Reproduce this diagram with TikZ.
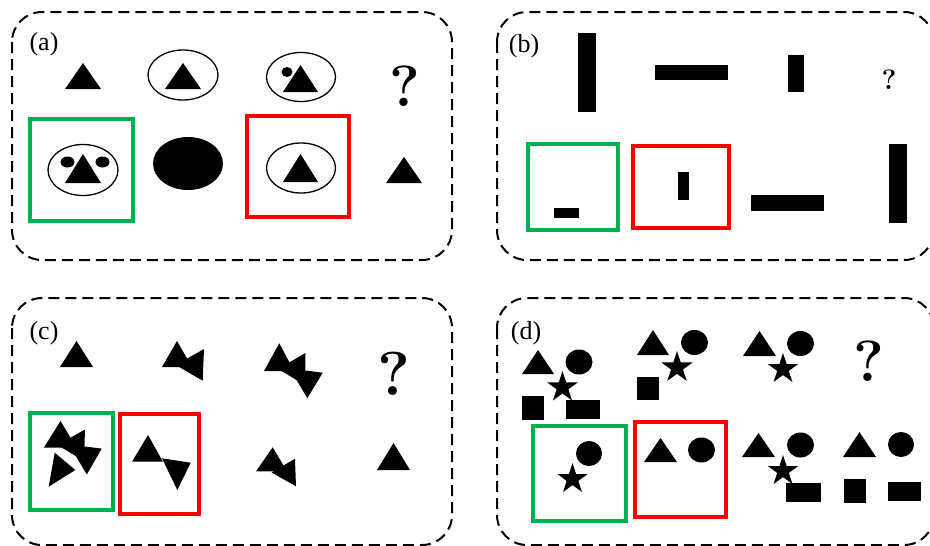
\documentclass[tikz,border=0pt]{standalone}
\usepackage{fontspec}
\newfontfamily\labelfont{Liberation Serif}
\definecolor{ansgreen}{RGB}{0,176,80}
\definecolor{ansred}{RGB}{255,0,0}
\tikzset{
  panel/.style={draw=black, line width=2pt, dash pattern=on 11pt off 6pt, rounded corners=30pt},
  goodbox/.style={draw=ansgreen, line width=4pt},
  badbox/.style={draw=ansred, line width=4pt},
  solid shape/.style={fill=black},
  ring/.style={draw=black, line width=1.3pt},
  lab/.style={inner sep=0pt, font=\labelfont\fontsize{26}{26}\selectfont},
  qmark/.style={inner sep=0pt, font=\bfseries\fontsize{#1}{#1}\selectfont},
  cutout/.style={fill=black, draw=white, line width=5pt, line join=miter},
}
% five-pointed star: centre x, centre y, outer radius (pt)
\newcommand\starshape[3]{%
  \pgfmathsetmacro\starR{#3}%
  \pgfmathsetmacro\starr{0.382*#3}%
  \begin{scope}[shift={(#1,#2)}]
    \fill[solid shape] (90:\starR pt) -- (126:\starr pt) -- (162:\starR pt) -- (198:\starr pt)
      -- (234:\starR pt) -- (270:\starr pt) -- (306:\starR pt) -- (342:\starr pt)
      -- (18:\starR pt) -- (54:\starr pt) -- cycle;
  \end{scope}}
\begin{document}
\begin{tikzpicture}[x=1pt, y=-1pt]
\useasboundingbox (0,0) rectangle (930,546);

% ---------------- panel (a) ----------------
\draw[panel] (12,12) rectangle (452,260);
\node[lab] (la) at (44,44) {(a)};
\fill[solid shape] (65,89) -- (101,89) -- (83,63) -- cycle;
\draw[ring] (183,75) ellipse [x radius=35, y radius=25];
\fill[solid shape] (165,89) -- (201,89) -- (183,63) -- cycle;
\draw[ring] (301,77) ellipse [x radius=34.5, y radius=24.5];
\fill[solid shape] (287,72) ellipse [x radius=5.5, y radius=5];
\fill[solid shape] (283,92) -- (318,92) -- (300.5,65) -- cycle;
\node[qmark=58] (qa) at (405,86) {?};

\draw[goodbox] (30,119) rectangle (133,221);
\draw[ring] (83,170) ellipse [x radius=35, y radius=25.5];
\fill[solid shape] (67.5,162) ellipse [x radius=7, y radius=5.5];
\fill[solid shape] (102.5,162) ellipse [x radius=7, y radius=5.5];
\fill[solid shape] (65,183) -- (101,183) -- (83,154) -- cycle;

\fill[solid shape] (188,163.5) ellipse [x radius=35, y radius=26.5];

\draw[badbox] (247,116) rectangle (349,217);
\draw[ring] (301,168) ellipse [x radius=34.5, y radius=25];
\fill[solid shape] (283,182) -- (318,182) -- (300.5,154) -- cycle;

\fill[solid shape] (386,183) -- (422,183) -- (404,157) -- cycle;

% ---------------- panel (b) ----------------
\draw[panel] (497,12) rectangle (934,260);
\node[lab] (lb) at (524,46) {(b)};
\fill[solid shape] (578,33) rectangle (596,112);
\fill[solid shape] (655,65) rectangle (728,80);
\fill[solid shape] (788,55) rectangle (804,92);
\node[qmark=28] (qb) at (889,80) {?};

\draw[goodbox] (528,144) rectangle (618,230);
\fill[solid shape] (554,208) rectangle (579,218);
\draw[badbox] (633,146) rectangle (729,228);
\fill[solid shape] (678,172) rectangle (689,200);
\fill[solid shape] (751,195) rectangle (824,211);
\fill[solid shape] (889,144) rectangle (907,223);

% ---------------- panel (c) ----------------
\draw[panel] (12,298) rectangle (452,545);
\node[lab] (lc) at (44,333) {(c)};
\fill[solid shape] (60,367) -- (93,367) -- (76.5,341) -- cycle;

\fill[solid shape] (162,367) -- (192,367) -- (177,341) -- cycle;
\fill[solid shape] (175.7,365) -- (204,349) -- (202.7,380.7) -- cycle;

\fill[solid shape] (264,371) -- (294,371) -- (279.3,343.3) -- cycle;
\fill[solid shape] (278,369) -- (305.5,353) -- (305,385) -- cycle;
\fill[solid shape] (290,368.6) -- (322.7,372.7) -- (307.3,398.3) -- cycle;
\node[qmark=62] (qc) at (394,374) {?};

\draw[goodbox] (30,413) rectangle (113,510);
\fill[solid shape] (44,447.5) -- (76.5,447.5) -- (60.5,421) -- cycle;
\fill[solid shape] (57.5,445) -- (85,429.5) -- (84,461) -- cycle;
\fill[solid shape] (69,444.5) -- (101.7,448.6) -- (86.8,474.5) -- cycle;
\path[cutout] (54.7,452.7) -- (75.3,470) -- (48.7,486.7) -- cycle;
\fill[solid shape] (54.7,452.7) -- (75.3,470) -- (48.7,486.7) -- cycle;

\draw[badbox] (120,414) rectangle (199,514);
\fill[solid shape] (132,461.7) -- (163,461.7) -- (148,435) -- cycle;
\fill[solid shape] (162,458.3) -- (190.7,462.7) -- (177.3,490) -- cycle;

\fill[solid shape] (256,471.3) -- (287,471.3) -- (272.7,447.3) -- cycle;
\fill[solid shape] (271.6,472.5) -- (295,458.7) -- (296,486.3) -- cycle;

\fill[solid shape] (377,470) -- (410,470) -- (393.5,443) -- cycle;

% ---------------- panel (d) ----------------
\draw[panel] (497,298) rectangle (934,545);
\node[lab] (ld) at (526,333) {(d)};
% first cell
\fill[solid shape] (522,374) -- (554,374) -- (538,350) -- cycle;
\fill[solid shape] (579,362) ellipse [x radius=13.5, y radius=12.5];
\starshape{562.5}{387.3}{16.3}
\fill[solid shape] (522,396) rectangle (544,420);
\fill[solid shape] (566,400) rectangle (600,419);
% second cell
\fill[solid shape] (637,355) -- (669,355) -- (653,330) -- cycle;
\fill[solid shape] (694.5,342.5) ellipse [x radius=13.5, y radius=12.5];
\starshape{677}{367.5}{16.5}
\fill[solid shape] (637,377) rectangle (659,400);
% third cell
\fill[solid shape] (743,356) -- (776,356) -- (759.5,331) -- cycle;
\fill[solid shape] (800.5,343.5) ellipse [x radius=13.5, y radius=12.5];
\starshape{783}{369}{16}
\node[qmark=58] (qd) at (869,361) {?};

% answer cells
\draw[goodbox] (533,426) rectangle (626,521);
\fill[solid shape] (589,453.5) ellipse [x radius=13, y radius=12.5];
\starshape{572.5}{479}{16}

\draw[badbox] (635,422) rectangle (726,517);
\fill[solid shape] (644,462) -- (677,462) -- (660.5,438) -- cycle;
\fill[solid shape] (701.5,450) ellipse [x radius=13.5, y radius=12.5];

\fill[solid shape] (742,457) -- (775,457) -- (758.5,433) -- cycle;
\fill[solid shape] (800.5,445) ellipse [x radius=13.5, y radius=12.5];
\starshape{783}{471}{16}
\fill[solid shape] (786,483) rectangle (821,502);

\fill[solid shape] (843,457) -- (876,457) -- (859.5,432) -- cycle;
\fill[solid shape] (901,444.5) ellipse [x radius=13, y radius=12.5];
\fill[solid shape] (844,479) rectangle (866,503);
\fill[solid shape] (888,482) rectangle (921,501);
\end{tikzpicture}
\end{document}
